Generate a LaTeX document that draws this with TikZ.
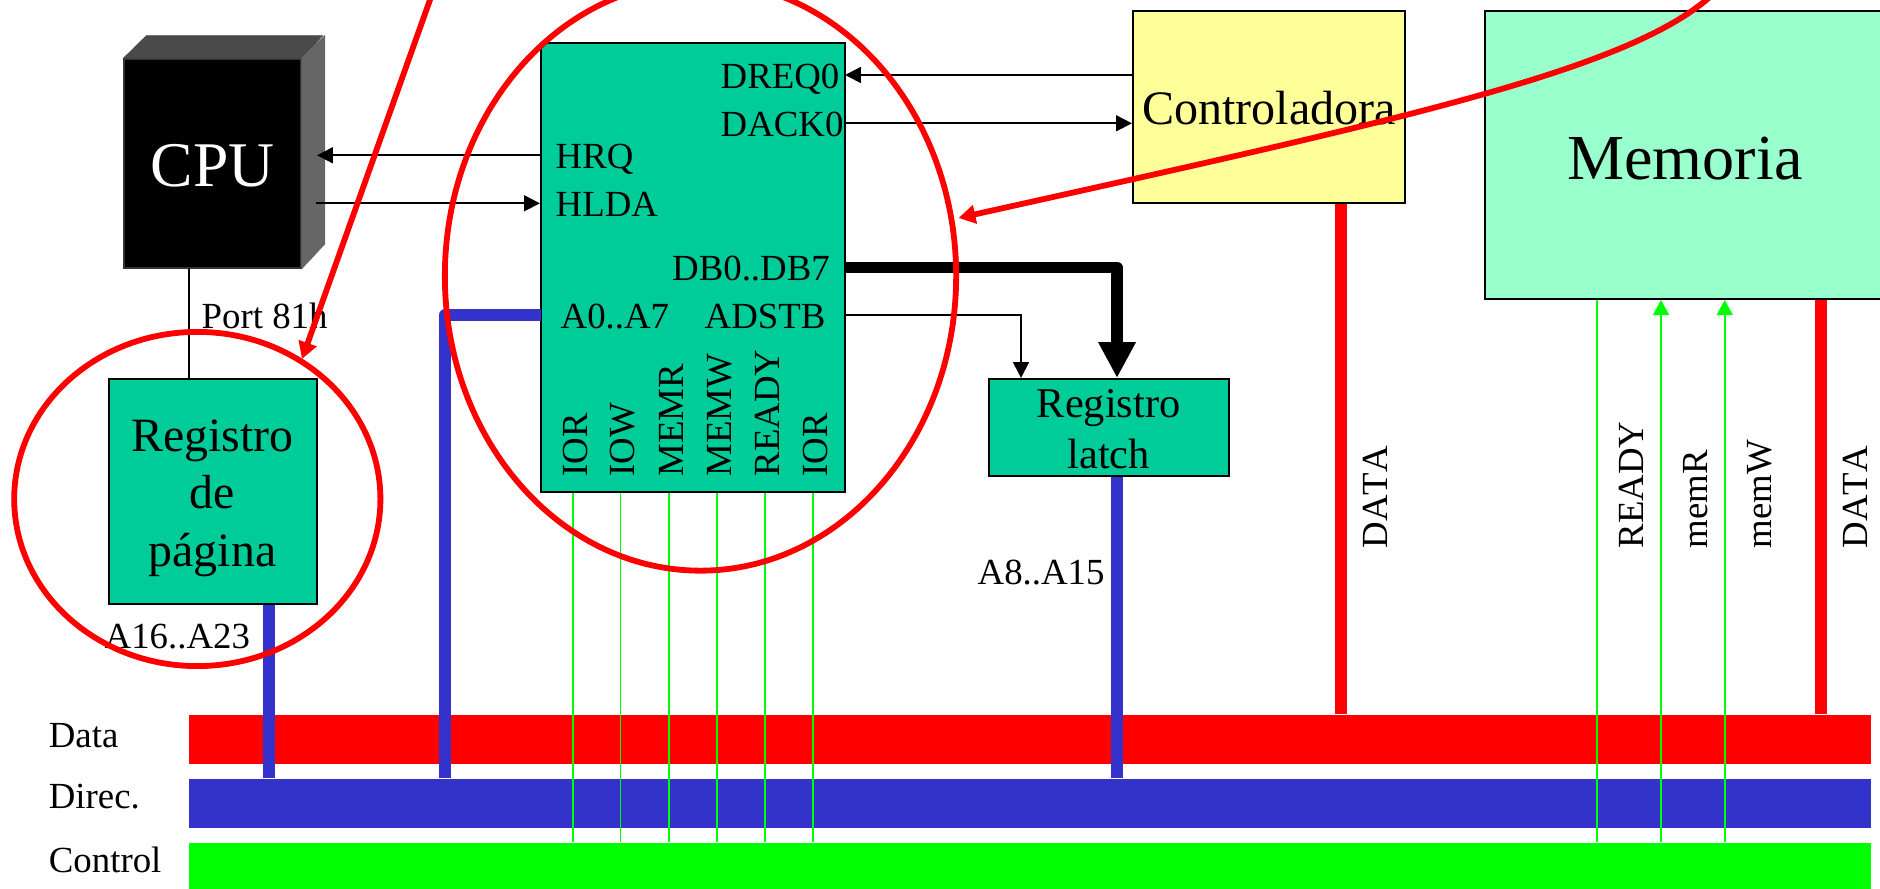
\documentclass[tikz,border=0pt]{standalone}
\usepackage{fontspec}
\setmainfont[Kerning=Off]{Liberation Serif}
\usetikzlibrary{arrows.meta,shapes.geometric}
\definecolor{chipgreen}{RGB}{0,204,153}
\definecolor{ctrlyellow}{RGB}{255,255,153}
\definecolor{memgreen}{RGB}{153,255,204}
\definecolor{busblue}{RGB}{51,51,204}
\definecolor{busgreen}{RGB}{0,255,0}
\definecolor{cputop}{RGB}{74,74,74}
\definecolor{cpuside}{RGB}{102,102,102}
\tikzset{
  block/.style={draw=black, line width=0.57pt, inner sep=0pt, align=center},
  blocktext/.style={inner sep=0pt, align=center},
  bus/.style={inner sep=0pt, minimum width=16.81cm},
  lab/.style={inner sep=0pt, anchor=base west, font=\fontsize{10.47}{12}\selectfont},
  vlab/.style={lab, rotate=90},
  thin line/.style={line width=0.57pt},
  sig/.style={thin line, -{Triangle[length=4.5pt,width=4.5pt]}},
  ctl/.style={busgreen, line width=0.55pt},
  ctlsig/.style={ctl, -{Triangle[length=4.3pt,width=4.5pt]}},
  addr/.style={busblue, line width=3.3pt, line join=round},
  datal/.style={red, line width=3.3pt},
  ring/.style={ellipse, draw=red, line width=1.65pt, inner sep=0pt},
  pointer/.style={red, line width=1.65pt, -{Triangle[length=4.8pt,width=5.2pt]}}
}
\begin{document}
\begin{tikzpicture}[x=0.01cm, y=-0.01cm]
  \useasboundingbox (0,0) rectangle (1880,889);

  % Buses
  \node[bus, fill=red, minimum height=0.49cm] (data) at (1029.5,739.5) {};
  \node[bus, fill=busblue, minimum height=0.49cm] (direc) at (1029.5,803.5) {};
  \node[bus, fill=busgreen, minimum height=0.49cm] (control) at (1029.5,867.5) {};
  \node[lab] (datalab) at (48.2,747.4) {Data};
  \node[lab] (direclab) at (48.2,808.8) {Direc.};
  \node[lab] (controllab) at (48.2,872.2) {Control};

  % CPU
  \node[draw=black!80, line width=0.57pt, fill=black, text=white, inner sep=0pt, minimum width=1.762cm, minimum height=2.084cm, text height=0.45cm, text depth=0pt, font=\fontsize{18.1}{20}\selectfont] (cpu) at (212.6,163.5) {CPU};
  \filldraw[fill=cputop, draw=cputop, line width=0.2pt] (cpu.north west) -- ++(23,-22.6) -- ++(176.2,0) -- (cpu.north east) -- cycle;
  \filldraw[fill=cpuside, draw=cpuside, line width=0.2pt] (cpu.north east) -- ++(23,-22.6) -- ++(0,208.4) -- (cpu.south east) -- cycle;

  % Blocks
  \node[block, fill=chipgreen, minimum width=3.04cm, minimum height=4.484cm] (chip) at (693,267.5) {};
  \node[block, fill=chipgreen, minimum width=2.08cm, minimum height=2.25cm] (page) at (213,491.3) {};
  \node[blocktext, font=\fontsize{13.6}{16.4}\selectfont] (pagetext) at (212.5,498.3) {Registro\\de\\página};
  \node[block, fill=chipgreen, minimum width=2.404cm, minimum height=0.97cm] (latch) at (1109.2,427.5) {};
  \node[blocktext, font=\fontsize{12.06}{14.7}\selectfont] (latchtext) at (1108.6,429.3) {Registro\\latch};
  \node[block, fill=ctrlyellow, minimum width=2.72cm, minimum height=1.92cm, text height=0.36cm, text depth=0pt, font=\fontsize{13.66}{16}\selectfont] (ctrl) at (1269,107) {Controladora};
  \node[block, fill=memgreen, minimum width=4cm, minimum height=2.878cm, text height=0.482cm, text depth=0pt, font=\fontsize{18.25}{21}\selectfont] (mem) at (1685,154.9) {Memoria};

  % Chip labels
  \node[lab] (dreq) at (720,88.3) {DREQ0};
  \node[lab] (dack) at (720,136.7) {DACK0};
  \node[lab] (hrq) at (555,168.3) {HRQ};
  \node[lab] (hlda) at (555,216.7) {HLDA};
  \node[lab] (dbus) at (671.5,280.7) {DB0..DB7};
  \node[lab] (alow) at (560,329) {A0..A7};
  \node[lab] (adstb) at (704,329) {ADSTB};
  \node[vlab] (iorA) at (587.5,477) {IOR};
  \node[vlab] (iow) at (634.8,477) {IOW};
  \node[vlab] (memr) at (683,477) {MEMR};
  \node[vlab] (memw) at (731,477) {MEMW};
  \node[vlab] (ready) at (779.4,477) {READY};
  \node[vlab] (iorB) at (827.6,477) {IOR};

  % Other labels
  \node[lab] (port) at (201,328.3) {Port 81h};
  \node[lab] (ahigh) at (104,648.4) {A16..A23};
  \node[lab] (amid) at (977,585) {A8..A15};
  \node[vlab] (dataA) at (1387,549) {DATA};
  \node[vlab] (readyM) at (1643,549) {READY};
  \node[vlab] (memrM) at (1707,549) {memR};
  \node[vlab] (memwM) at (1771.5,549) {memW};
  \node[vlab] (dataB) at (1867,549) {DATA};

  \coordinate (hrqEnd) at (317,155.3);
  \coordinate (hldaEnd) at (316,203.3);
  \coordinate (dreqEnd) at (845,75);
  \coordinate (dackEnd) at (845,123.3);
  \coordinate (dbEnd) at (845,267.5);
  \coordinate (adEnd) at (845,315);
  \coordinate (aEnd) at (541,315);

  % Thin signals
  \draw[sig] (chip.west |- hrqEnd) -- (hrqEnd);
  \draw[sig] (hldaEnd) -- (chip.west |- hldaEnd);
  \draw[sig] (ctrl.west |- dreqEnd) -- (dreqEnd);
  \draw[sig] (dackEnd) -- (ctrl.west |- dackEnd);
  \draw[sig] (adEnd) -| (1021,0 |- latch.north);
  \draw[thin line] (cpu.south -| 188.6,0) -- (page.north -| 188.6,0);

  % Thick lines
  \draw[line width=3.3pt, line join=round, -{Triangle[length=10.2pt,width=10pt]}] (dbEnd) -| (latch.north -| 1117,0);
  \draw[addr] (aEnd) -| (direc.north -| 445,0);
  \draw[addr] (page.south -| 269,0) -- (direc.north -| 269,0);
  \draw[addr] (latch.south -| 1117,0) -- (direc.north -| 1117,0);
  \draw[datal] (ctrl.south -| 1341,0) -- (data.north -| 1341,0);
  \draw[datal] (mem.south -| 1821,0) -- (data.north -| 1821,0);

  % Control lines
  \foreach \x in {572.8, 620.5, 668.8, 717, 765, 813} {
    \draw[ctl] (chip.south -| \x,0) -- (control.north -| \x,0);
  }
  \draw[ctl] (control.north -| 1596.8,0) -- (mem.south -| 1596.8,0);
  \draw[ctlsig] (control.north -| 1661,0) -- (mem.south -| 1661,0);
  \draw[ctlsig] (control.north -| 1724.7,0) -- (mem.south -| 1724.7,0);

  % Rings and pointers
  \node[ring, minimum width=3.66cm, minimum height=3.34cm] (ringpage) at (197.3,499) {};
  \node[ring, minimum width=5.11cm, minimum height=5.89cm] (ringchip) at (700.5,276) {};
  \coordinate (ptrA) at (431,-3);
  \coordinate (ptrB) at (1712,-5);
  \coordinate (tipA) at (302,359);
  \coordinate (tipB) at (958.5,218);
  \draw[pointer] (ptrA) -- (tipA);
  \draw[pointer] (ptrB) .. controls (1630,70) and (1400,120) .. (tipB);
\end{tikzpicture}
\end{document}
